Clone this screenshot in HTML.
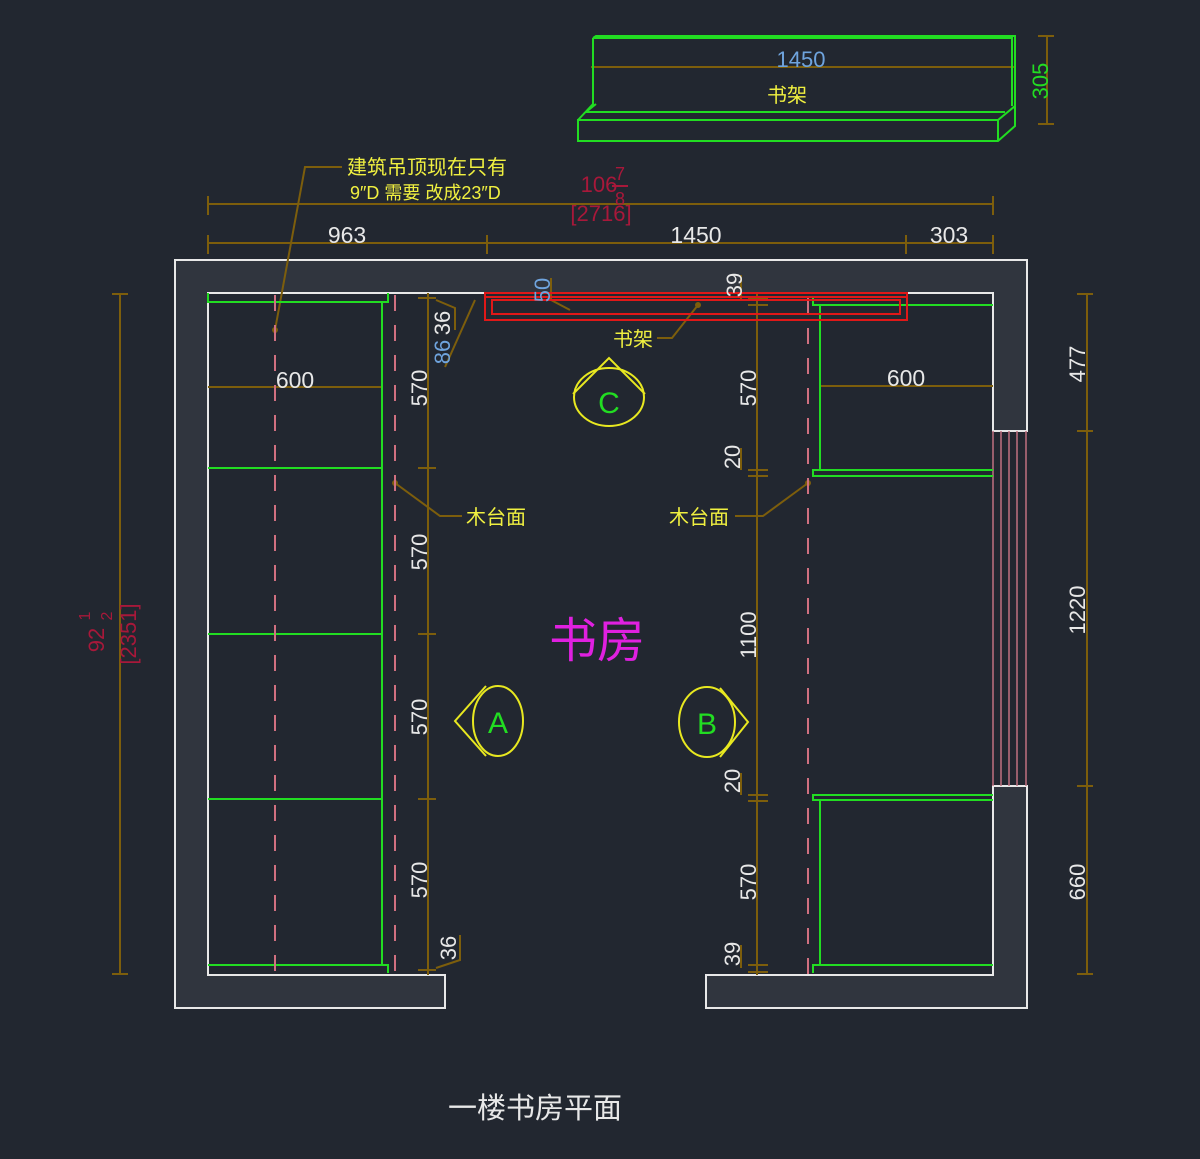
<!DOCTYPE html>
<html><head><meta charset="utf-8"><style>
html,body{margin:0;padding:0;background:#222730;}
svg{display:block;}
text{font-family:"Liberation Sans","Noto Sans CJK SC",sans-serif;}
</style></head><body>
<svg width="1200" height="1159" viewBox="0 0 1200 1159" xmlns="http://www.w3.org/2000/svg">
<rect width="1200" height="1159" fill="#222730"/>

<!-- walls -->
<path d="M175,260 H1027 V431 H993 V293 H208 V975 H445 V1008 H175 Z" fill="#30353e" stroke="#e8e8e8" stroke-width="2"/>
<path d="M1027,786 V1008 H706 V975 H993 V786 Z" fill="#30353e" stroke="#e8e8e8" stroke-width="2"/>
<!-- window lines -->
<g stroke="#c07080" stroke-width="1.5">
<line x1="993" y1="431" x2="993" y2="786"/><line x1="1001" y1="431" x2="1001" y2="786"/>
<line x1="1009" y1="431" x2="1009" y2="786"/><line x1="1017" y1="431" x2="1017" y2="786"/>
<line x1="1026" y1="431" x2="1026" y2="786"/>
</g>

<!-- dim lines top -->
<g stroke="#7d5e0c" stroke-width="2" fill="none">
<line x1="208" y1="204" x2="993" y2="204"/>
<line x1="208" y1="196" x2="208" y2="215"/><line x1="993" y1="196" x2="993" y2="215"/>
<line x1="208" y1="243" x2="993" y2="243"/>
<line x1="208" y1="235" x2="208" y2="254"/><line x1="487" y1="235" x2="487" y2="254"/>
<line x1="906" y1="235" x2="906" y2="254"/><line x1="993" y1="235" x2="993" y2="254"/>
<!-- left vertical -->
<line x1="120" y1="293" x2="120" y2="975"/>
<line x1="112" y1="294" x2="128" y2="294"/><line x1="112" y1="974" x2="128" y2="974"/>
<!-- right vertical -->
<line x1="1087" y1="293" x2="1087" y2="975"/>
<line x1="1077" y1="294" x2="1093" y2="294"/><line x1="1077" y1="431" x2="1093" y2="431"/>
<line x1="1077" y1="786" x2="1093" y2="786"/><line x1="1077" y1="974" x2="1093" y2="974"/>
<!-- left cab dim -->
<line x1="428" y1="293" x2="428" y2="975"/>
<line x1="418" y1="298" x2="436" y2="298"/><line x1="418" y1="468" x2="436" y2="468"/>
<line x1="418" y1="634" x2="436" y2="634"/><line x1="418" y1="799" x2="436" y2="799"/>
<line x1="418" y1="970" x2="436" y2="970"/>
<!-- right cab dim -->
<line x1="757" y1="293" x2="757" y2="975"/>
<line x1="748" y1="298" x2="768" y2="298"/><line x1="748" y1="305" x2="768" y2="305"/>
<line x1="748" y1="470" x2="768" y2="470"/><line x1="748" y1="476" x2="768" y2="476"/>
<line x1="748" y1="795" x2="768" y2="795"/><line x1="748" y1="801" x2="768" y2="801"/>
<line x1="748" y1="965" x2="768" y2="965"/><line x1="748" y1="972" x2="768" y2="972"/>
<!-- 600 dims -->
<line x1="208" y1="387" x2="382" y2="387"/>
<line x1="820" y1="386" x2="993" y2="386"/>
<!-- leaders -->
<polyline points="275,330 305,167 342,167"/>
<polyline points="395,483 440,516 462,516"/>
<polyline points="808,483 763,516 735,516"/>
<polyline points="698,305 672,338 657,338"/>
<polyline points="445,367 475,300"/>
<polyline points="436,300 455,308 455,330"/>
<line x1="551" y1="278" x2="551" y2="300"/><polyline points="551,300 570,310"/>
<line x1="741" y1="275" x2="741" y2="300"/>
<line x1="741" y1="448" x2="741" y2="470"/>
<line x1="741" y1="773" x2="741" y2="795"/>
<line x1="741" y1="945" x2="741" y2="968"/>
<polyline points="460,935 460,960 436,968"/>
<!-- top shelf 305 -->
<line x1="1047" y1="36" x2="1047" y2="124"/>
<line x1="1038" y1="36" x2="1054" y2="36"/><line x1="1038" y1="124" x2="1054" y2="124"/>
<line x1="591" y1="67" x2="1015" y2="67"/>
</g>
<g fill="#7d5e0c"><circle cx="275" cy="330" r="3"/><circle cx="395" cy="483" r="3"/><circle cx="808" cy="483" r="3"/><circle cx="698" cy="305" r="3"/></g>

<!-- left cabinet -->
<g stroke="#22dd22" stroke-width="2" fill="none">
<path d="M208,293 V302 H388 V293"/>
<line x1="382" y1="302" x2="382" y2="965"/>
<line x1="208" y1="468" x2="382" y2="468"/>
<line x1="208" y1="634" x2="382" y2="634"/>
<line x1="208" y1="799" x2="382" y2="799"/>
<path d="M208,965 H388 V973"/>
<!-- right cabinet -->
<path d="M813,296 V305 H993"/>
<line x1="820" y1="305" x2="820" y2="470"/>
<path d="M993,470 H813 V476 H993"/>
<path d="M993,795 H813 V800 H993"/>
<line x1="820" y1="800" x2="820" y2="965"/>
<path d="M813,973 V965 H993"/>
<!-- top shelf -->
<path d="M593,38 L596,36 H1015 V106 L998,120 H578 V141 H998 L1015,126 V106"/>
<path d="M593,38 H1012 V106 M593,38 V104 L578,120 M998,141 V120"/>
<path d="M596,104 L586,112 H1005"/>
</g>

<!-- pink dashed -->
<g stroke="#d07080" stroke-width="2" stroke-dasharray="16,14" fill="none">
<line x1="275" y1="295" x2="275" y2="975"/>
<line x1="395" y1="295" x2="395" y2="975"/>
<line x1="808" y1="298" x2="808" y2="975"/>
</g>

<!-- red bookshelf -->
<g stroke="#e01818" stroke-width="2" fill="none">
<rect x="485" y="293" width="422" height="27"/>
<rect x="492" y="300" width="408" height="14"/>
<line x1="485" y1="297" x2="907" y2="297"/>
</g>

<!-- view markers -->
<g stroke="#e8e820" stroke-width="2" fill="none">
<ellipse cx="609" cy="397" rx="35" ry="29"/>
<polyline points="573,394 609,358 645,394"/>
<ellipse cx="498" cy="721" rx="25" ry="35"/>
<polyline points="486,686 455,721 486,756"/>
<ellipse cx="707" cy="722" rx="28" ry="35"/>
<polyline points="720,688 748,722 720,757"/>
</g>
<g fill="#22dd22" font-size="30" text-anchor="middle">
<text x="609" y="413">C</text>
<text x="498" y="733">A</text>
<text x="707" y="734">B</text>
</g>

<!-- white dim text -->
<g fill="#e8e8e8" font-size="23" text-anchor="middle">
<text x="347" y="243">963</text>
<text x="696" y="243">1450</text>
<text x="949" y="243">303</text>
<text x="295" y="388">600</text>
<text x="906" y="386">600</text>
</g>
<g fill="#e8e8e8" font-size="22" text-anchor="middle">
<text transform="translate(427,388) rotate(-90)">570</text>
<text transform="translate(427,552) rotate(-90)">570</text>
<text transform="translate(427,717) rotate(-90)">570</text>
<text transform="translate(427,880) rotate(-90)">570</text>
<text transform="translate(456,948) rotate(-90)">36</text>
<text transform="translate(450,323) rotate(-90)">36</text>
<text transform="translate(742,285) rotate(-90)">39</text>
<text transform="translate(756,388) rotate(-90)">570</text>
<text transform="translate(740,457) rotate(-90)">20</text>
<text transform="translate(756,635) rotate(-90)">1100</text>
<text transform="translate(740,781) rotate(-90)">20</text>
<text transform="translate(756,882) rotate(-90)">570</text>
<text transform="translate(740,954) rotate(-90)">39</text>
<text transform="translate(1085,364) rotate(-90)">477</text>
<text transform="translate(1085,610) rotate(-90)">1220</text>
<text transform="translate(1085,882) rotate(-90)">660</text>
</g>
<g fill="#6fa4de" font-size="22" text-anchor="middle">
<text transform="translate(450,352) rotate(-90)">86</text>
<text transform="translate(550,290) rotate(-90)">50</text>
<text x="801" y="67">1450</text>
</g>
<text transform="translate(1048,81) rotate(-90)" fill="#22dd22" font-size="22" text-anchor="middle">305</text>

<!-- red text -->
<g fill="#a8183a" font-size="22" text-anchor="middle">
<text x="599" y="192">106</text>
<text x="620" y="180" font-size="18">7</text>
<line x1="612" y1="186" x2="628" y2="186" stroke="#a8183a" stroke-width="2"/>
<text x="620" y="205" font-size="18">8</text>
<text x="601" y="221">[2716]</text>
<text transform="translate(104,640) rotate(-90)">92</text>
<text transform="translate(90,616) rotate(-90)" font-size="16">1</text>
<text transform="translate(112,616) rotate(-90)" font-size="16">2</text>
<text transform="translate(136,634) rotate(-90)">[2351]</text>
</g>

<!-- yellow labels -->
<g fill="#f0f040" font-size="20">
<text x="347" y="174">建筑吊顶现在只有</text>
<text x="350" y="199" font-size="18">9″D 需要 改成23″D</text>
<text x="466" y="524">木台面</text>
<text x="669" y="524">木台面</text>
<text x="613" y="346">书架</text>
<text x="767" y="102">书架</text>
</g>

<text x="549" y="657" fill="#e020e0" font-size="48" font-family="'Liberation Serif','Noto Serif CJK SC',serif">书房</text>
<text x="448" y="1118" fill="#e8e8e8" font-size="29">一楼书房平面</text>
</svg>
</body></html>
